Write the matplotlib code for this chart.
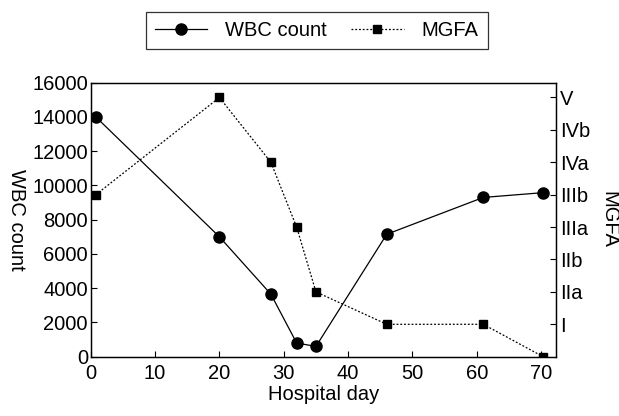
import matplotlib
matplotlib.use("Agg")
import matplotlib.pyplot as plt
from matplotlib.lines import Line2D

plt.rcParams['font.family'] = ['Liberation Sans', 'DejaVu Sans']

days = [0.8, 20, 28, 32, 35, 46, 61, 70.3]
wbc = [14000, 7000, 3650, 800, 600, 7150, 9300, 9580]
mgfa = [5, 8, 6, 4, 2, 1, 1, 0]
mgfa_labels = ["I", "IIa", "IIb", "IIIa", "IIIb", "IVa", "IVb", "V"]
mgfa_levels = [1, 2, 3, 4, 5, 6, 7, 8]
x_ticks = [0, 10, 20, 30, 40, 50, 60, 70]
wbc_ticks = [0, 2000, 4000, 6000, 8000, 10000, 12000, 14000, 16000]

fig = plt.figure(figsize=(6.19, 4.16), dpi=100)
ax = fig.add_axes([90.7/619, 1 - 356.7/416, (556 - 90.7)/619, (356.7 - 82.7)/416])
ax2 = ax.twinx()

ax.plot(days, wbc, color='black', lw=0.9, marker='o', markersize=8, zorder=3)
ax2.plot(days, mgfa, color='black', lw=0.9, ls=(0, (1.5, 1.5)), marker='s', markersize=6, zorder=3)

ax.set_xlim(0, 72.3)
ax.set_ylim(0, 16000)
ax2.set_ylim(0, 16000/1892)

ax.set_xticks(x_ticks)
ax.set_yticks(wbc_ticks)
ax2.set_yticks(mgfa_levels)
ax2.set_yticklabels(mgfa_labels)

fs = 14.5
ax.tick_params(axis='both', direction='in', labelsize=fs, length=4, width=0.8, pad=2)
ax.tick_params(axis='x', pad=5)
ax2.tick_params(axis='y', direction='in', labelsize=fs, length=4, width=0.8, pad=3)

for a in (ax, ax2):
    for s in a.spines.values():
        s.set_linewidth(0.9)

ax.set_xlabel("Hospital day", fontsize=fs, labelpad=2)
ax.set_ylabel("WBC count", fontsize=fs, rotation=270, labelpad=18)
ax2.set_ylabel("MGFA", fontsize=fs, rotation=270, labelpad=20)

handles = [
    Line2D([], [], color='black', lw=0.9, marker='o', markersize=8),
    Line2D([], [], color='black', lw=0.9, ls=(0, (1.5, 1.5)), marker='s', markersize=6),
]
leg = fig.legend(handles, ["WBC count", "MGFA"], loc='center', bbox_to_anchor=(316.7/619, 1 - 30.5/416),
                 ncol=2, fontsize=fs, frameon=True, fancybox=False, edgecolor='black',
                 handlelength=2.6, columnspacing=1.2, borderpad=0.45, handletextpad=0.9)
leg.get_frame().set_linewidth(0.9)

fig.savefig("out.png", dpi=100)
